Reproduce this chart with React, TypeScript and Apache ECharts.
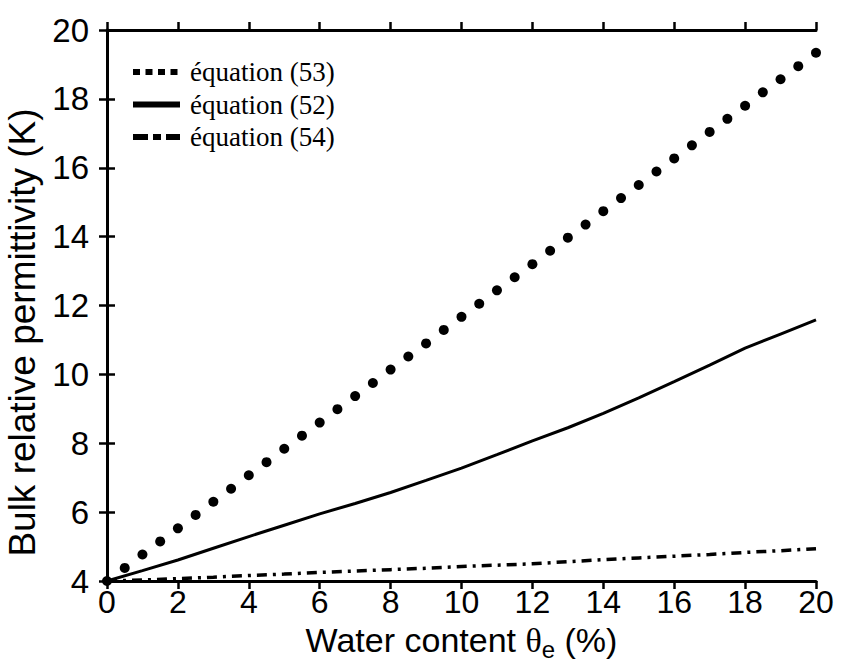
import React, { useEffect, useRef } from "react";
import * as echarts from "echarts";

const waterContent = [0, 1, 2, 3, 4, 5, 6, 7, 8, 9, 10, 11, 12, 13, 14, 15, 16, 17, 18, 19, 20];
const eq52 = [4.0, 4.3, 4.61, 4.95, 5.29, 5.62, 5.95, 6.25, 6.57, 6.92, 7.28, 7.67, 8.07, 8.45, 8.87, 9.32, 9.79, 10.27, 10.76, 11.17, 11.58];
const eq54 = [4.0, 4.03, 4.07, 4.11, 4.16, 4.2, 4.25, 4.29, 4.33, 4.37, 4.42, 4.46, 4.5, 4.56, 4.62, 4.67, 4.72, 4.77, 4.83, 4.88, 4.94];

const dotWaterContent = [0, 0.5, 1, 1.5, 2, 2.5, 3, 3.5, 4, 4.5, 5, 5.5, 6, 6.5, 7, 7.5, 8, 8.5, 9, 9.5, 10, 10.5, 11, 11.5, 12, 12.5, 13, 13.5, 14, 14.5, 15, 15.5, 16, 16.5, 17, 17.5, 18, 18.5, 19, 19.5, 20];
const eq53 = [4.0, 4.38, 4.77, 5.15, 5.53, 5.92, 6.3, 6.68, 7.07, 7.45, 7.84, 8.22, 8.6, 8.99, 9.37, 9.75, 10.14, 10.52, 10.9, 11.29, 11.67, 12.05, 12.44, 12.82, 13.2, 13.59, 13.97, 14.35, 14.74, 15.12, 15.5, 15.89, 16.27, 16.65, 17.04, 17.42, 17.8, 18.19, 18.57, 18.95, 19.34];

const legendLabels = ["équation (53)", "équation (52)", "équation (54)"];

const SANS = "'Liberation Sans', Arial, sans-serif";
const SERIF = "'Liberation Serif', 'Times New Roman', serif";

export default function App() {
  const ref = useRef<HTMLDivElement>(null);

  useEffect(() => {
    if (!ref.current) return;
    const chart = echarts.init(ref.current, undefined, { renderer: "svg" });

    const axisLine = { show: true, lineStyle: { color: "#000", width: 3 } };
    const axisTick = { show: true, inside: false, length: 8, lineStyle: { color: "#000", width: 2.5 } };

    const legendRowsY = [72, 104.5, 137];
    const dashes: any[] = [[7, 5.5], null, [15, 5, 8, 5]];
    const legendGraphics: any[] = [];
    legendLabels.forEach((label, i) => {
      legendGraphics.push({
        type: "line",
        shape: { x1: 133, y1: legendRowsY[i], x2: 180, y2: legendRowsY[i] },
        style: { stroke: "#000", lineWidth: 6, lineDash: dashes[i] || undefined },
      });
      legendGraphics.push({
        type: "text",
        x: 190,
        y: legendRowsY[i],
        style: {
          text: label,
          font: `27px ${SERIF}`,
          fill: "#000",
          verticalAlign: "middle",
          align: "left",
        },
      });
    });

    chart.setOption({
      animation: false,
      backgroundColor: "#fff",
      grid: { left: 107, right: 27, top: 30, bottom: 81, containLabel: false, outerBoundsMode: "none" },
      xAxis: [
        {
          type: "value",
          min: 0,
          max: 20,
          interval: 2,
          position: "bottom",
          axisLine,
          axisTick,
          splitLine: { show: false },
          axisLabel: { color: "#000", fontSize: 32, fontFamily: SANS, margin: 5 },
          name: "Water content {t|θ}{s|e} (%)",
          nameLocation: "middle",
          nameGap: 38,
          nameTextStyle: {
            color: "#000",
            fontSize: 34,
            fontFamily: SANS,
            rich: {
              t: { fontSize: 34, fontFamily: SERIF, color: "#000" },
              s: { fontSize: 24, fontFamily: SANS, color: "#000", padding: [18, 0, 0, 0] },
            },
          },
        },
        {
          type: "value",
          min: 0,
          max: 20,
          interval: 2,
          position: "top",
          axisLine,
          axisTick,
          splitLine: { show: false },
          axisLabel: { show: false },
        },
      ],
      yAxis: [
        {
          type: "value",
          min: 4,
          max: 20,
          interval: 2,
          position: "left",
          axisLine,
          axisTick,
          splitLine: { show: false },
          axisLabel: { color: "#000", fontSize: 33, fontFamily: SANS, margin: 18 },
          name: "Bulk relative permittivity (K)",
          nameLocation: "middle",
          nameGap: 65,
          nameTextStyle: { color: "#000", fontSize: 37, fontFamily: SANS, padding: [0, 54, 0, 0] },
        },
        {
          type: "value",
          min: 4,
          max: 20,
          interval: 2,
          position: "right",
          axisLine,
          axisTick,
          splitLine: { show: false },
          axisLabel: { show: false },
        },
      ],
      series: [
        {
          name: legendLabels[0],
          type: "scatter",
          symbol: "circle",
          symbolSize: 10,
          itemStyle: { color: "#000", opacity: 1 },
          data: dotWaterContent.map((x, i) => [x, eq53[i]]),
          z: 3,
        },
        {
          name: legendLabels[1],
          type: "line",
          showSymbol: false,
          lineStyle: { color: "#000", width: 3 },
          data: waterContent.map((x, i) => [x, eq52[i]]),
        },
        {
          name: legendLabels[2],
          type: "line",
          showSymbol: false,
          lineStyle: { color: "#000", width: 3.5, type: [10, 6, 3, 6] },
          data: waterContent.map((x, i) => [x, eq54[i]]),
        },
      ],
      graphic: legendGraphics,
    });

    return () => chart.dispose();
  }, []);

  return (
    <div
      ref={ref}
      style={{ position: "fixed", left: 0, top: 0, width: 843, height: 662, background: "#fff" }}
    />
  );
}
